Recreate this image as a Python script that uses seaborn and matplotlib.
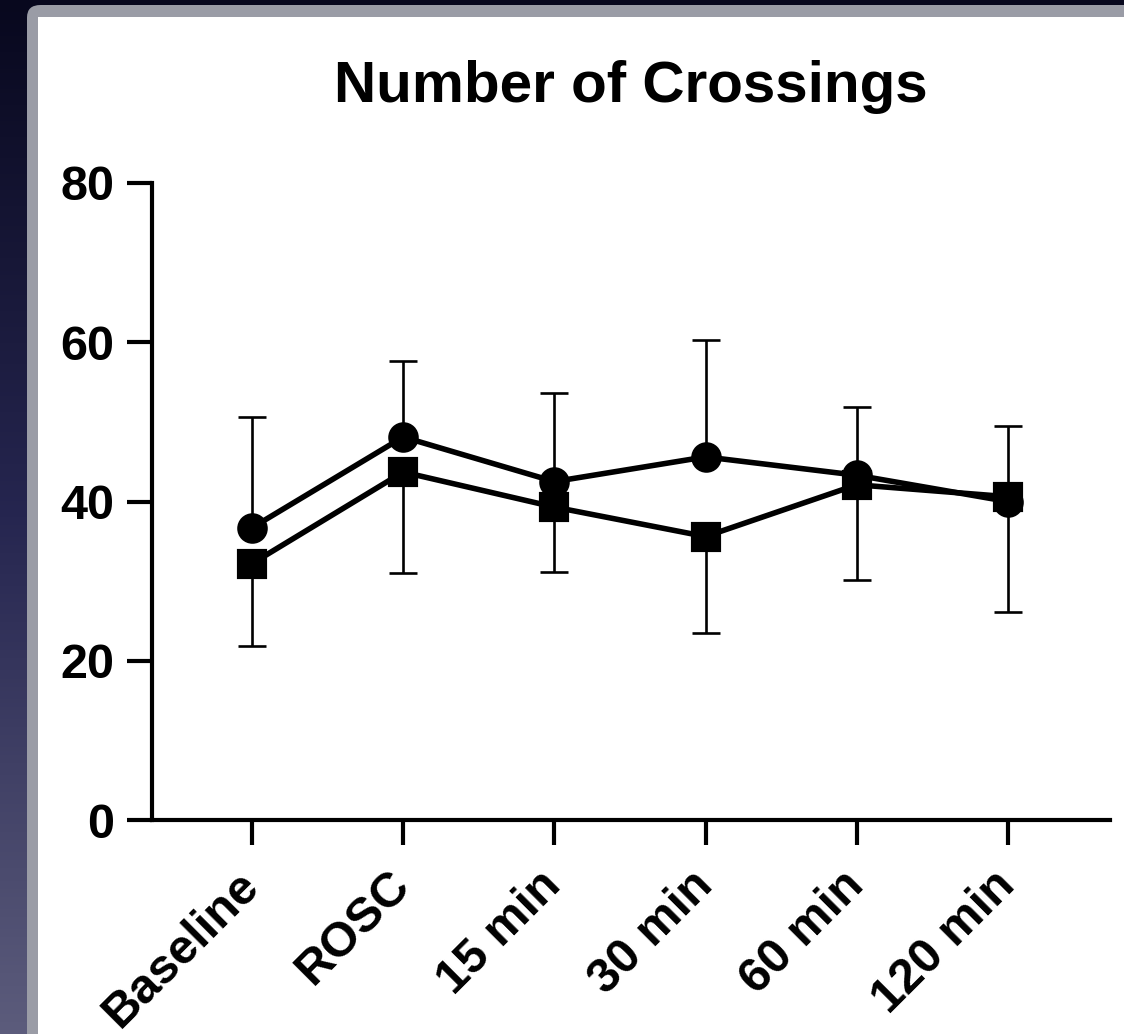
import numpy as np
import pandas as pd
import matplotlib
matplotlib.use('Agg')
import matplotlib.pyplot as plt
from matplotlib.patches import FancyBboxPatch, Rectangle
import seaborn as sns

# data
time_points = ['Baseline', 'ROSC', '15 min', '30 min', '60 min', '120 min']
circle_mean = [36.7, 48.1, 42.5, 45.6, 43.3, 40.0]
circle_upper = [50.6, 57.7, 53.6, 60.3, 51.9, 49.5]   # error bar drawn above
square_mean = [32.2, 43.7, 39.3, 35.6, 42.1, 40.6]
square_lower = [21.9, 31.0, 31.2, 23.5, 30.2, 26.1]   # error bar drawn below
y_ticks = [0, 20, 40, 60, 80]

df = pd.DataFrame({
    'time': time_points * 2,
    'crossings': circle_mean + square_mean,
    'group': ['circle'] * 6 + ['square'] * 6,
})

sns.set_style('white')
plt.rcParams['font.family'] = ['Liberation Sans', 'DejaVu Sans']
plt.rcParams['text.color'] = 'black'
plt.rcParams['xtick.color'] = 'black'
plt.rcParams['ytick.color'] = 'black'

W, H = 1124, 1034
fig = plt.figure(figsize=(W / 100, H / 100), dpi=100)

# dark gradient backdrop
bg = fig.add_axes([0, 0, 1, 1], zorder=-3)
grad = np.linspace(0, 1, 256).reshape(-1, 1)
cmap = matplotlib.colors.LinearSegmentedColormap.from_list(
    'bg', ['#08081e', '#262650', '#5c5c7c'])
bg.imshow(grad, aspect='auto', cmap=cmap, extent=[0, 1, 0, 1], origin='upper')
bg.set_axis_off()

# window panel: gray frame + white inside
frame = FancyBboxPatch((27 / W, -0.1), 1.2, (H - 5) / H + 0.1,
                       boxstyle='round,pad=0,rounding_size=0.012',
                       transform=fig.transFigure, facecolor='#9a9ca6',
                       edgecolor='none', zorder=-2)
fig.patches.append(frame)
inner = Rectangle((38 / W, -0.1), 1.2, (H - 17) / H + 0.1,
                  transform=fig.transFigure, facecolor='white',
                  edgecolor='none', zorder=-1)
fig.patches.append(inner)

ax = fig.add_axes([152 / W, (H - 820) / H, (1110 - 152) / W, (820 - 183) / H])
ax.set_facecolor('none')

x = np.arange(len(time_points))
ax.errorbar(x, circle_mean, yerr=[np.zeros(6), np.array(circle_upper) - np.array(circle_mean)],
            fmt='none', ecolor='black', elinewidth=1.9, capsize=10, capthick=1.9, zorder=2)
ax.errorbar(x, square_mean, yerr=[np.array(square_mean) - np.array(square_lower), np.zeros(6)],
            fmt='none', ecolor='black', elinewidth=1.9, capsize=10, capthick=1.9, zorder=2)

sns.pointplot(data=df, x='time', y='crossings', hue='group', order=time_points,
              palette=['black', 'black'], markers=['o', 's'], linestyles=['-', '-'],
              errorbar=None, markersize=19, linewidth=4, legend=False, ax=ax)

ax.set_xlim(-0.661, 5.675)
ax.set_ylim(0, 80)
ax.set_yticks(y_ticks)
ax.set_xlabel('')
ax.set_ylabel('')
sns.despine(ax=ax)
for s in ['left', 'bottom']:
    ax.spines[s].set_linewidth(3)
    ax.spines[s].set_color('black')

ax.tick_params(axis='both', direction='out', length=18, width=3, color='black',
               labelcolor='black', left=True, bottom=True)
ax.tick_params(axis='y', pad=9, labelsize=35)
ax.tick_params(axis='x', pad=24, labelsize=35)
for lab in ax.get_yticklabels():
    lab.set_fontweight('bold')
for lab in ax.get_xticklabels():
    lab.set_fontweight('bold')
    lab.set_rotation(45)
    lab.set_ha('right')
    lab.set_va('center')
    lab.set_rotation_mode('anchor')

ax.set_title('Number of Crossings', fontsize=42, fontweight='bold', pad=58, color='black')

fig.savefig('out.png', dpi=100)
